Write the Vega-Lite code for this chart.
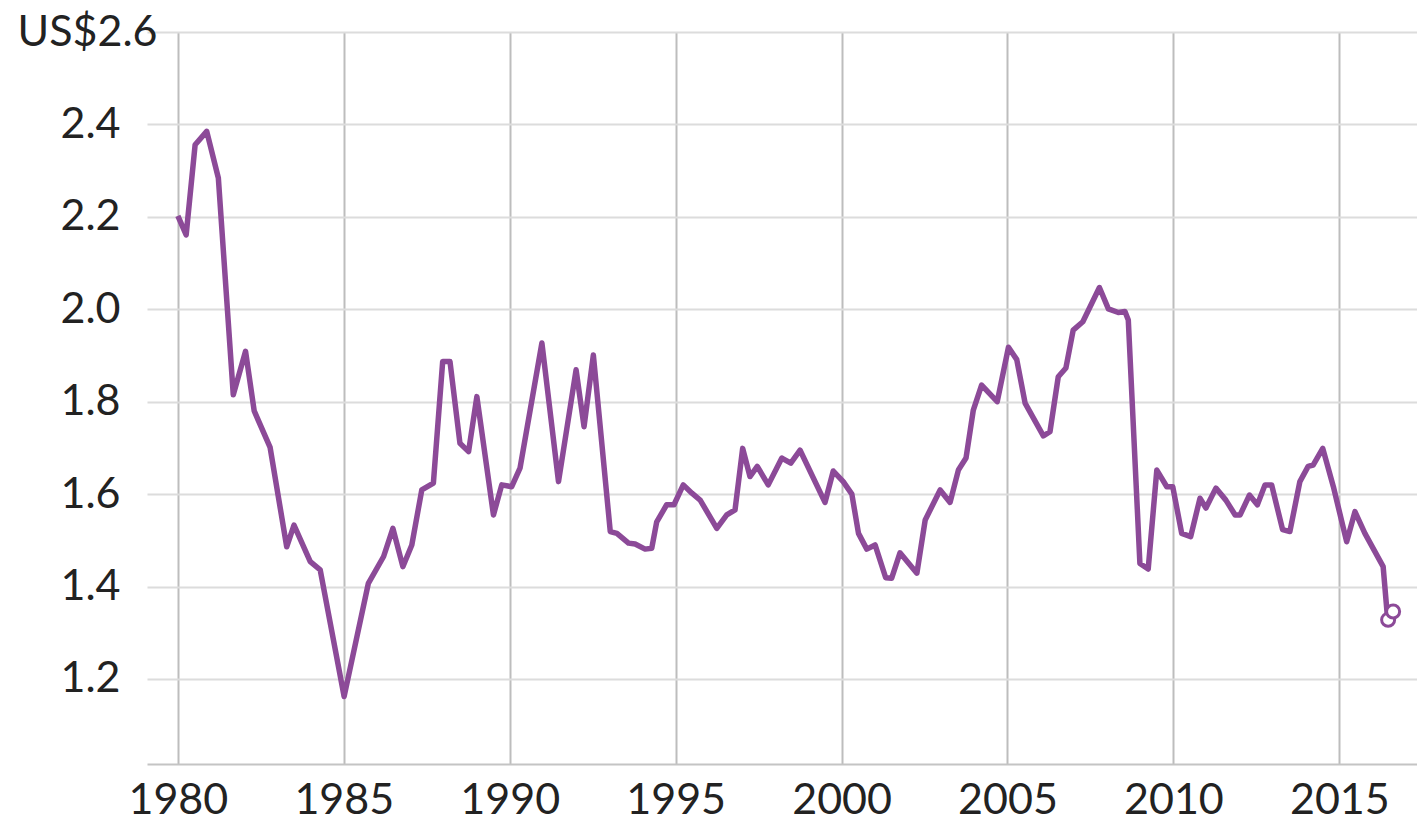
{
  "$schema": "https://vega.github.io/schema/vega-lite/v6.json",
  "autosize": {"type": "none"},
  "width": 1270,
  "height": 732,
  "padding": {"left": 147, "top": 32, "right": 0, "bottom": 58},
  "background": "white",
  "config": {
    "view": {"stroke": null},
    "font": "Lato",
    "axis": {"labelFont": "Lato", "labelFontSize": 43, "labelColor": "#222222", "ticks": false, "tickSize": 0, "title": null}
  },
  "datasets": {
    "series": [
      {"year": 1980.0, "usd": 2.202}, {"year": 1980.25, "usd": 2.161}, {"year": 1980.52, "usd": 2.356}, {"year": 1980.87, "usd": 2.385},
      {"year": 1981.22, "usd": 2.284}, {"year": 1981.67, "usd": 1.815}, {"year": 1982.04, "usd": 1.909}, {"year": 1982.3, "usd": 1.78},
      {"year": 1982.78, "usd": 1.701}, {"year": 1983.28, "usd": 1.486}, {"year": 1983.5, "usd": 1.533}, {"year": 1983.99, "usd": 1.454},
      {"year": 1984.29, "usd": 1.436}, {"year": 1985.01, "usd": 1.162}, {"year": 1985.74, "usd": 1.407}, {"year": 1986.2, "usd": 1.465},
      {"year": 1986.48, "usd": 1.526}, {"year": 1986.78, "usd": 1.443}, {"year": 1987.05, "usd": 1.49}, {"year": 1987.35, "usd": 1.609},
      {"year": 1987.7, "usd": 1.624}, {"year": 1987.98, "usd": 1.887}, {"year": 1988.2, "usd": 1.887}, {"year": 1988.5, "usd": 1.71},
      {"year": 1988.76, "usd": 1.692}, {"year": 1989.01, "usd": 1.811}, {"year": 1989.51, "usd": 1.555}, {"year": 1989.76, "usd": 1.62},
      {"year": 1990.06, "usd": 1.616}, {"year": 1990.31, "usd": 1.656}, {"year": 1990.97, "usd": 1.927}, {"year": 1991.47, "usd": 1.627},
      {"year": 1992.0, "usd": 1.869}, {"year": 1992.24, "usd": 1.746}, {"year": 1992.52, "usd": 1.901}, {"year": 1993.03, "usd": 1.519},
      {"year": 1993.23, "usd": 1.515}, {"year": 1993.58, "usd": 1.494}, {"year": 1993.78, "usd": 1.492}, {"year": 1994.08, "usd": 1.481},
      {"year": 1994.28, "usd": 1.483}, {"year": 1994.43, "usd": 1.54}, {"year": 1994.73, "usd": 1.577}, {"year": 1994.95, "usd": 1.577},
      {"year": 1995.23, "usd": 1.62}, {"year": 1995.49, "usd": 1.602}, {"year": 1995.74, "usd": 1.587}, {"year": 1996.24, "usd": 1.526},
      {"year": 1996.54, "usd": 1.555}, {"year": 1996.79, "usd": 1.566}, {"year": 1997.02, "usd": 1.699}, {"year": 1997.24, "usd": 1.638},
      {"year": 1997.46, "usd": 1.66}, {"year": 1997.79, "usd": 1.62}, {"year": 1998.2, "usd": 1.678}, {"year": 1998.47, "usd": 1.667},
      {"year": 1998.75, "usd": 1.695}, {"year": 1999.5, "usd": 1.582}, {"year": 1999.75, "usd": 1.65}, {"year": 2000.05, "usd": 1.627},
      {"year": 2000.31, "usd": 1.6}, {"year": 2000.51, "usd": 1.515}, {"year": 2000.76, "usd": 1.481}, {"year": 2001.01, "usd": 1.49},
      {"year": 2001.33, "usd": 1.419}, {"year": 2001.51, "usd": 1.418}, {"year": 2001.76, "usd": 1.473}, {"year": 2002.27, "usd": 1.429},
      {"year": 2002.52, "usd": 1.544}, {"year": 2002.97, "usd": 1.609}, {"year": 2003.27, "usd": 1.582}, {"year": 2003.52, "usd": 1.652},
      {"year": 2003.75, "usd": 1.678}, {"year": 2003.97, "usd": 1.782}, {"year": 2004.22, "usd": 1.836}, {"year": 2004.69, "usd": 1.8},
      {"year": 2005.03, "usd": 1.918}, {"year": 2005.28, "usd": 1.891}, {"year": 2005.53, "usd": 1.797}, {"year": 2006.08, "usd": 1.726},
      {"year": 2006.28, "usd": 1.735}, {"year": 2006.53, "usd": 1.854}, {"year": 2006.76, "usd": 1.873}, {"year": 2006.98, "usd": 1.955},
      {"year": 2007.27, "usd": 1.973}, {"year": 2007.77, "usd": 2.047}, {"year": 2008.04, "usd": 2.001}, {"year": 2008.34, "usd": 1.993},
      {"year": 2008.54, "usd": 1.995}, {"year": 2008.64, "usd": 1.977}, {"year": 2008.99, "usd": 1.45}, {"year": 2009.24, "usd": 1.438},
      {"year": 2009.5, "usd": 1.652}, {"year": 2009.8, "usd": 1.616}, {"year": 2009.98, "usd": 1.616}, {"year": 2010.25, "usd": 1.515},
      {"year": 2010.52, "usd": 1.508}, {"year": 2010.8, "usd": 1.591}, {"year": 2010.98, "usd": 1.57}, {"year": 2011.28, "usd": 1.613},
      {"year": 2011.58, "usd": 1.587}, {"year": 2011.86, "usd": 1.555}, {"year": 2012.01, "usd": 1.555}, {"year": 2012.29, "usd": 1.598},
      {"year": 2012.53, "usd": 1.577}, {"year": 2012.76, "usd": 1.62}, {"year": 2012.96, "usd": 1.62}, {"year": 2013.29, "usd": 1.523},
      {"year": 2013.51, "usd": 1.519}, {"year": 2013.81, "usd": 1.627}, {"year": 2014.06, "usd": 1.66}, {"year": 2014.21, "usd": 1.663},
      {"year": 2014.5, "usd": 1.699}, {"year": 2014.82, "usd": 1.616}, {"year": 2015.22, "usd": 1.497}, {"year": 2015.47, "usd": 1.562},
      {"year": 2015.77, "usd": 1.515}, {"year": 2016.32, "usd": 1.443}, {"year": 2016.44, "usd": 1.342}, {"year": 2016.47, "usd": 1.328}
    ],
    "latest": [
      {"year": 2016.47, "usd": 1.328},
      {"year": 2016.62, "usd": 1.346}
    ]
  },
  "encoding": {
    "x": {
      "field": "year", "type": "quantitative",
      "scale": {"domain": [1979.07, 2017.34], "nice": false, "zero": false},
      "axis": {
        "values": [1980, 1985, 1990, 1995, 2000, 2005, 2010, 2015],
        "format": "d",
        "labelPadding": 15,
        "domain": true, "domainColor": "#c4c4c4", "domainWidth": 2,
        "grid": true, "gridColor": "#bdbdbd", "gridWidth": 2
      }
    },
    "y": {
      "field": "usd", "type": "quantitative",
      "scale": {"domain": [1.016, 2.6], "nice": false, "zero": false},
      "axis": {
        "values": [1.2, 1.4, 1.6, 1.8, 2.0, 2.2, 2.4, 2.6],
        "labelExpr": "datum.value == 2.6 ? 'US$2.6' : format(datum.value, '.1f')",
        "labelPadding": {"condition": {"test": "datum.value == 2.6", "value": -10}, "value": 27},
        "domain": false,
        "grid": true, "gridColor": "#dcdcdc", "gridWidth": 2
      }
    }
  },
  "layer": [
    {
      "data": {"name": "series"},
      "mark": {"type": "line", "color": "#8c4a98", "strokeWidth": 5.5, "strokeJoin": "round"}
    },
    {
      "data": {"name": "latest"},
      "mark": {"type": "point", "shape": "circle", "filled": false, "fill": "white", "fillOpacity": 1, "stroke": "#8c4a98", "strokeWidth": 3, "size": 170, "opacity": 1}
    }
  ]
}
